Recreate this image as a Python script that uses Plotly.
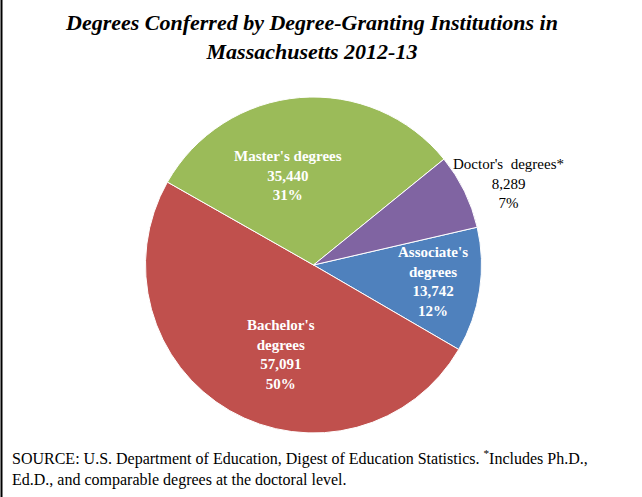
import plotly.graph_objects as go

labels = ["Associate's degrees", "Bachelor's degrees", "Master's degrees", "Doctor's  degrees*"]
label_text = ["Associate's<br>degrees", "Bachelor's<br>degrees", "Master's degrees", "Doctor's  degrees*"]
values = [13742, 57091, 35440, 8289]
percents = ["12%", "50%", "31%", "7%"]
colors = ["#4F81BD", "#C0504D", "#9BBB59", "#8064A2"]

serif = "Liberation Serif, Times New Roman, serif"
W, H = 642, 497

fig = go.Figure(go.Pie(
    labels=labels,
    values=values,
    textinfo="none",
    sort=False,
    direction="clockwise",
    rotation=77,
    marker=dict(colors=colors, line=dict(color="white", width=1)),
    showlegend=False,
    hoverinfo="label+value+percent",
    domain=dict(x=[145 / W, 482 / W], y=[1 - 433 / H, 1 - 97 / H]),
))

# slice labels, placed where the original puts them (pixel centres)
label_pos = [(433, 281), (281, 354), (288, 175), (508, 183)]
for i, (px_, py_) in enumerate(label_pos):
    inside = i < 3
    txt = f"{label_text[i]}<br>{values[i]:,}<br>{percents[i]}"
    fig.add_annotation(
        text=f"<b>{txt}</b>" if inside else txt,
        x=px_ / W, y=1 - py_ / H, xref="paper", yref="paper",
        xanchor="center", yanchor="middle", align="center", showarrow=False,
        font=dict(family=serif, size=15 if inside else 15,
                  color="white" if inside else "black"),
    )

fig.add_annotation(
    text="<b><i>Degrees Conferred by Degree-Granting Institutions in<br>Massachusetts 2012-13</i></b>",
    x=311 / W, y=1 - 8 / H, xref="paper", yref="paper",
    xanchor="center", yanchor="top", showarrow=False,
    font=dict(family=serif, size=22, color="black"),
)
fig.add_annotation(
    text="SOURCE: U.S. Department of Education, Digest of Education Statistics. <sup>*</sup>Includes Ph.D.,<br>Ed.D., and comparable degrees at the doctoral level.",
    x=10 / W, y=1 - 445 / H, xref="paper", yref="paper",
    xanchor="left", yanchor="top", align="left", showarrow=False,
    font=dict(family=serif, size=16, color="black"),
)

fig.update_layout(
    width=W,
    height=H,
    margin=dict(l=0, r=0, t=0, b=0),
    paper_bgcolor="white",
    plot_bgcolor="white",
    shapes=[dict(type="line", xref="paper", yref="paper",
                 x0=1.5 / W, x1=1.5 / W, y0=0, y1=1,
                 line=dict(color="black", width=2))],
)

# page body has a default 8px margin; drop it so the figure sits at the window's corner
fig.write_html("out.html", config={"displayModeBar": False},
               post_script="document.body.style.margin='0';")
